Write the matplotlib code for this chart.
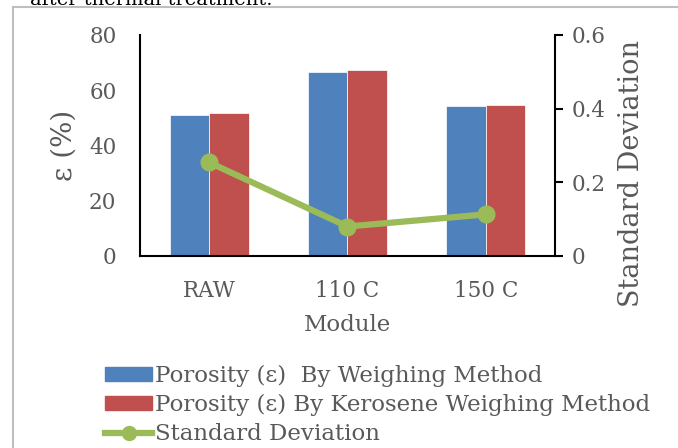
import matplotlib.pyplot as plt
import numpy as np
from matplotlib.lines import Line2D

# data
modules = ['RAW', '110 C', '150 C']
porosity_weighing = [50.9, 66.7, 54.2]
porosity_kerosene = [51.8, 67.2, 54.8]
std_dev = [0.254, 0.080, 0.113]

blue = '#4F81BD'
red = '#C0504D'
green = '#9BBB59'
grey = '#595959'

plt.rcParams['font.family'] = ['DejaVu Serif']

fig = plt.figure(figsize=(6.78, 4.48), dpi=100)
ax = fig.add_axes([0.2065, 0.4286, 0.612, 0.4933])

x = np.arange(len(modules))
w = 1 / 3.5
ax.bar(x - w / 2, porosity_weighing, w, color=blue, edgecolor='white', linewidth=0.5)
ax.bar(x + w / 2, porosity_kerosene, w, color=red, edgecolor='white', linewidth=0.5)
ax.set_xlim(-0.5, 2.5)
ax.set_ylim(0, 80)
ax.set_yticks([0, 20, 40, 60, 80])
ax.set_xticks(x)
ax.set_xticklabels(modules)
ax.tick_params(axis='both', length=0, labelsize=15.5, colors=grey)
ax.tick_params(axis='x', pad=17)
ax.tick_params(axis='y', pad=17)
ax.set_ylabel('ε (%)', fontsize=20, color=grey, labelpad=8)
ax.set_xlabel('Module', fontsize=16.5, color=grey, labelpad=9)
for s in ['top', 'right']:
    ax.spines[s].set_visible(False)
for s in ['left', 'bottom']:
    ax.spines[s].set_linewidth(1.5)

ax2 = ax.twinx()
ax2.plot(x, std_dev, color=green, linewidth=4.5, marker='o', markersize=12)
ax2.set_ylim(0, 0.6)
ax2.set_yticks([0, 0.2, 0.4, 0.6])
ax2.set_yticklabels(['0', '0.2', '0.4', '0.6'])
ax2.tick_params(axis='y', length=6, width=1.5, labelsize=15.5, labelcolor=grey, pad=6)
ax2.set_ylabel('Standard Deviation', fontsize=19.5, color=grey)
ax2.yaxis.set_label_coords(1.152, 0.371)
for s in ['top', 'left', 'bottom']:
    ax2.spines[s].set_visible(False)
ax2.spines['right'].set_linewidth(1.5)

handles = [plt.Rectangle((0, 0), 1, 1, color=blue),
           plt.Rectangle((0, 0), 1, 1, color=red),
           Line2D([], [], color=green, linewidth=4.5, marker='o', markersize=10)]
labels = ['Porosity (ε)  By Weighing Method',
          'Porosity (ε) By Kerosene Weighing Method',
          'Standard Deviation']
leg = fig.legend(handles, labels, loc='upper left', bbox_to_anchor=(0.138, 0.21),
                 frameon=False, fontsize=16.5, handlelength=2.05, handleheight=0.55,
                 handletextpad=0.15, labelspacing=0.3, borderpad=0)
for t in leg.get_texts():
    t.set_color(grey)

# outer frame and cut-off caption line
fig.add_artist(Line2D([13 / 678, 13 / 678], [0, 1 - 7 / 448], color='#BFBFBF', linewidth=1.5))
fig.add_artist(Line2D([13 / 678, 1], [1 - 7 / 448, 1 - 7 / 448], color='#BFBFBF', linewidth=1.5))
fig.text(30 / 678, 1.0, 'after thermal treatment.', fontsize=14, va='center', ha='left')

fig.savefig('out.png', dpi=100)
